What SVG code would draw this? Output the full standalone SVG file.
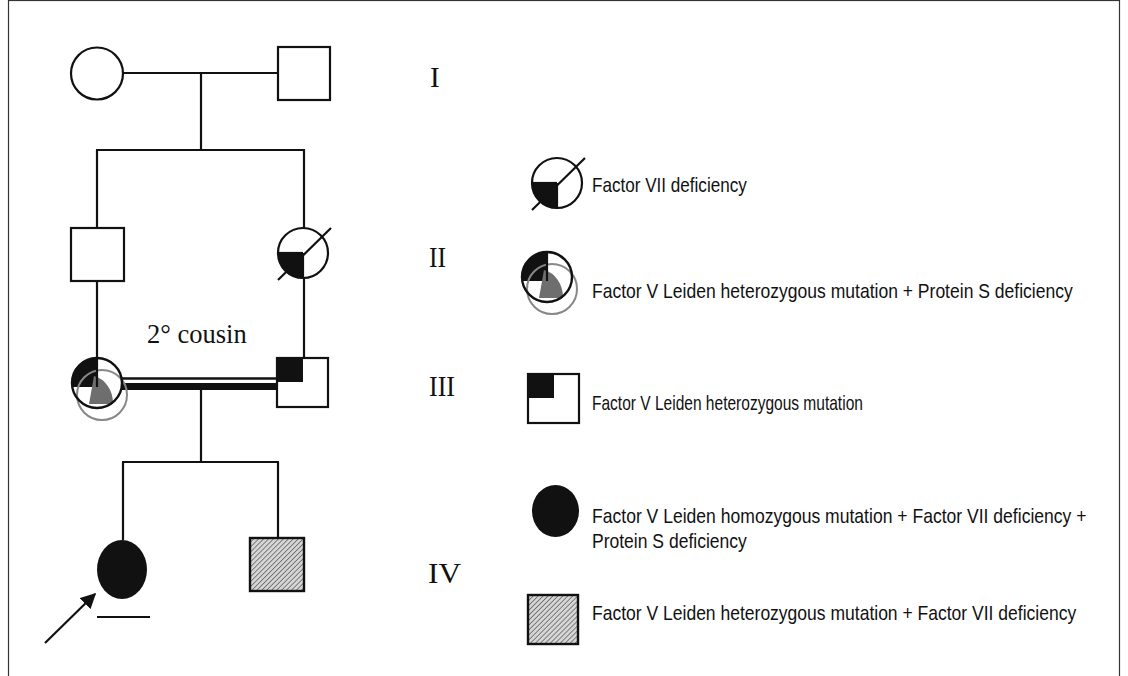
<svg xmlns="http://www.w3.org/2000/svg" width="1128" height="676" viewBox="0 0 1128 676">
<style>
.ln{stroke:#111;stroke-width:2.2;fill:none}
.nd{stroke:#111;stroke-width:2.2;fill:#fff}
.rom{font-family:"Liberation Serif","Times New Roman",serif;fill:#111}
.lg{font-family:"Liberation Sans",Arial,sans-serif;font-size:20px;fill:#111}
</style>
<defs>
<pattern id="hatch" width="3.5" height="3.5" patternUnits="userSpaceOnUse" patternTransform="rotate(45)">
<rect width="3.5" height="3.5" fill="#d6d6d6"/>
<line x1="0" y1="0" x2="0" y2="3.5" stroke="#555" stroke-width="1.4"/>
</pattern>
<marker id="arr" viewBox="0 0 10 10" refX="9" refY="5" markerWidth="7" markerHeight="7" markerUnits="strokeWidth" orient="auto">
<path d="M0,0 L10,5 L0,10 Z" fill="#111"/>
</marker>
<g id="f7">
<circle r="25" fill="#fff" stroke="none"/>
<path d="M0,0 L-25,0 A25,25 0 0 0 0,25 Z" fill="#111"/>
<line x1="0" y1="0" x2="0" y2="25" class="ln"/>
<line x1="0" y1="0" x2="-25" y2="0" class="ln"/>
<circle r="25" fill="none" stroke="#111" stroke-width="2.2"/>
<line x1="-25" y1="27" x2="28" y2="-25" class="ln"/>
</g>
<g id="fvps">
<circle r="25" fill="#fff" stroke="none"/>
<path d="M0,4 L-24.7,4 A25,25 0 0 1 0,-25 Z" fill="#111"/>
<path d="M-8,21 L-3,-7 A24,28 0 0 1 16,21 Z" fill="#6e6e6e"/>
<circle cx="5" cy="12" r="25" fill="none" stroke="#888" stroke-width="2"/>
<line x1="0" y1="-25" x2="0" y2="4" class="ln"/>
<circle r="25" fill="none" stroke="#111" stroke-width="2.4"/>
</g>
<g id="fvsq">
<rect x="0" y="0" width="51" height="49" class="nd"/>
<rect x="0" y="0" width="26" height="24" fill="#111"/>
</g>
</defs>

<rect x="8.5" y="0.5" width="1111" height="720" fill="none" stroke="#333" stroke-width="1.2"/>

<g id="connectors">
<line x1="123" y1="73" x2="278" y2="73" class="ln"/>
<line x1="201" y1="73" x2="201" y2="150" class="ln"/>
<line x1="96" y1="150" x2="305" y2="150" class="ln"/>
<line x1="97" y1="150" x2="97" y2="228" class="ln"/>
<line x1="304" y1="150" x2="304" y2="228" class="ln"/>
<line x1="97" y1="281" x2="97" y2="358" class="ln"/>
<line x1="304" y1="278" x2="304" y2="358" class="ln"/>
<line x1="121" y1="378.5" x2="277" y2="378.5" stroke="#111" stroke-width="2.6"/>
<line x1="121" y1="386.5" x2="277" y2="386.5" stroke="#111" stroke-width="7"/>
<line x1="201" y1="390" x2="201" y2="462" class="ln"/>
<line x1="122" y1="462" x2="279" y2="462" class="ln"/>
<line x1="123" y1="462" x2="123" y2="540" class="ln"/>
<line x1="278" y1="462" x2="278" y2="538" class="ln"/>
<line x1="45" y1="643" x2="95" y2="594" stroke="#111" stroke-width="2.2" marker-end="url(#arr)"/>
<line x1="97" y1="617" x2="150" y2="617" class="ln"/>
</g>

<g id="I-1"><circle cx="97" cy="73.5" r="26" class="nd"/></g>
<g id="I-2"><rect x="278" y="47" width="52" height="53" class="nd"/></g>
<g id="II-1"><rect x="71" y="228" width="53" height="53" class="nd"/></g>
<g id="II-2"><use href="#f7" x="303" y="253"/></g>
<g id="III-1"><use href="#fvps" x="97" y="383"/></g>
<g id="III-2"><use href="#fvsq" x="277" y="358"/></g>
<g id="IV-1"><ellipse cx="122" cy="569.5" rx="25" ry="29.5" fill="#111"/></g>
<g id="IV-2"><rect x="250" y="538" width="54" height="53" fill="url(#hatch)" stroke="#111" stroke-width="2.4"/></g>

<g id="labels">
<text x="147" y="343" class="rom" font-size="26.5">2° cousin</text>
<text x="430" y="87" class="rom" font-size="29">I</text>
<text x="429" y="267" class="rom" font-size="29" textLength="17" lengthAdjust="spacingAndGlyphs">II</text>
<text x="429" y="396" class="rom" font-size="29" textLength="26" lengthAdjust="spacingAndGlyphs">III</text>
<text x="428" y="583" class="rom" font-size="30" textLength="33" lengthAdjust="spacingAndGlyphs">IV</text>
</g>

<g id="legend">
<use href="#f7" x="557" y="183"/>
<text transform="matrix(0.86 0 0 1 592 192)" class="lg" textLength="180" lengthAdjust="spacingAndGlyphs">Factor VII deficiency</text>
<use href="#fvps" x="547" y="277"/>
<text transform="matrix(0.86 0 0 1 592 298)" class="lg" textLength="559" lengthAdjust="spacingAndGlyphs">Factor V Leiden heterozygous mutation + Protein S deficiency</text>
<use href="#fvsq" x="528" y="374"/>
<text transform="matrix(0.86 0 0 1 592 410)" class="lg" textLength="315" lengthAdjust="spacingAndGlyphs">Factor V Leiden heterozygous mutation</text>
<ellipse cx="555.5" cy="511" rx="23.5" ry="26" fill="#111"/>
<text transform="matrix(0.86 0 0 1 592 523)" class="lg" textLength="575" lengthAdjust="spacingAndGlyphs">Factor V Leiden homozygous mutation + Factor VII deficiency +</text>
<text transform="matrix(0.86 0 0 1 592 548)" class="lg" textLength="180" lengthAdjust="spacingAndGlyphs">Protein S deficiency</text>
<rect x="528" y="595" width="50" height="49" fill="url(#hatch)" stroke="#111" stroke-width="2.4"/>
<text transform="matrix(0.86 0 0 1 592 620)" class="lg" textLength="563" lengthAdjust="spacingAndGlyphs">Factor V Leiden heterozygous mutation + Factor VII deficiency</text>
</g>
</svg>
